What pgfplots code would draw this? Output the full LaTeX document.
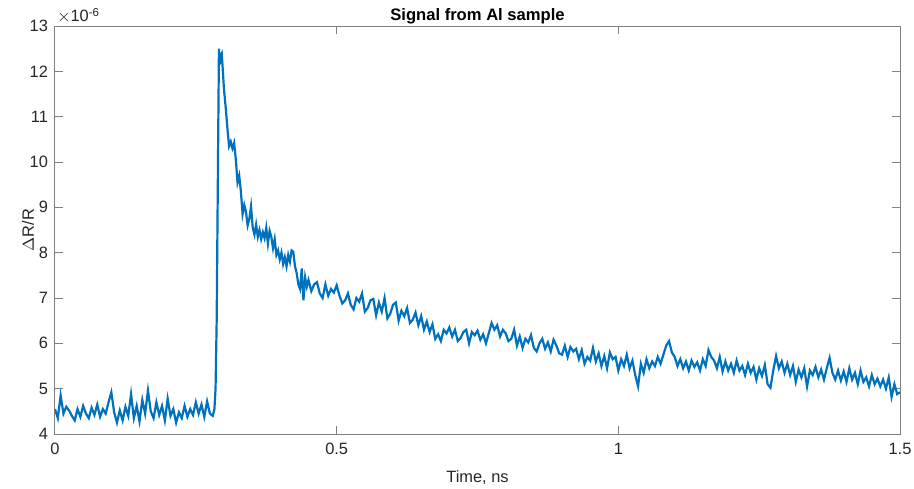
\documentclass[border=0pt]{standalone}
\usepackage{pgfplots}
\pgfplotsset{compat=1.18}
\usepackage{fontspec}
\setmainfont{Liberation Sans}
\definecolor{mlblue}{RGB}{0,114,189}
\definecolor{axgray}{RGB}{128,128,128}
\definecolor{txtgray}{RGB}{38,38,38}
\begin{document}
\begin{tikzpicture}
\begin{axis}[name=ax, at={(0,0)}, anchor=south west,
  scale only axis, width=422.5pt, height=204pt,
  xmin=0, xmax=1.5, ymin=4, ymax=13,
  xtick={0,0.5,1,1.5}, xticklabels={0,0.5,1,1.5},
  ytick={4,5,6,7,8,9,10,11,12,13},
  tick align=inside, major tick length=4pt,
  axis line style={axgray, line width=0.5pt},
  every tick/.style={axgray, line width=0.5pt},
  tick label style={txtgray, font=\fontsize{8.2}{10}\selectfont},
  /pgf/number format/assume math mode=true,
  xticklabel style={yshift=-1pt},
  xlabel={Time, ns}, ylabel={$\Delta$R/R},
  label style={txtgray, font=\fontsize{8.2}{10}\selectfont},
  xlabel style={yshift=-1pt},
  ylabel style={yshift=-9pt},
  title={\bfseries Signal from Al sample},
  title style={black, font=\fontsize{8.3}{10}\selectfont, yshift=-8.5pt},
]
\addplot[mlblue, line width=1.1pt] coordinates {
(0.000,4.55)(0.005,4.35)(0.010,4.85)(0.015,4.45)(0.020,4.60)(0.025,4.52)(0.030,4.40)(0.035,4.30)(0.040,4.55)(0.045,4.38)
(0.050,4.62)(0.055,4.45)(0.060,4.35)(0.065,4.58)(0.070,4.42)(0.075,4.65)(0.080,4.38)(0.085,4.55)(0.090,4.45)(0.095,4.70)
(0.100,4.92)(0.105,4.48)(0.110,4.25)(0.115,4.52)(0.120,4.30)(0.125,4.60)(0.130,4.40)(0.135,4.88)(0.140,4.35)(0.145,4.62)
(0.150,4.28)(0.155,4.75)(0.160,4.45)(0.165,4.96)(0.170,4.50)(0.175,4.35)(0.180,4.70)(0.185,4.42)(0.190,4.62)(0.195,4.30)
(0.200,4.78)(0.205,4.40)(0.210,4.55)(0.215,4.25)(0.220,4.48)(0.225,4.35)(0.230,4.62)(0.235,4.38)(0.240,4.55)(0.245,4.42)
(0.250,4.70)(0.255,4.45)(0.260,4.65)(0.265,4.38)(0.270,4.72)(0.275,4.45)(0.280,4.40)(0.283,4.55)(0.285,5.0)(0.287,6.5)
(0.289,9.5)(0.291,12.5)(0.2925,12.15)(0.294,12.35)(0.296,12.4)(0.298,12.0)(0.300,11.6)(0.303,11.2)(0.306,10.75)(0.309,10.35)
(0.312,10.45)(0.315,10.30)(0.318,10.42)(0.321,10.05)(0.324,9.55)(0.327,9.70)(0.330,9.35)(0.333,8.85)(0.336,9.05)(0.339,8.90)
(0.342,8.60)(0.345,8.75)(0.348,9.02)(0.351,8.55)(0.354,8.40)(0.357,8.62)(0.360,8.35)(0.363,8.50)(0.366,8.30)(0.369,8.45)
(0.372,8.32)(0.375,8.55)(0.378,8.20)(0.381,8.48)(0.384,8.35)(0.387,8.10)(0.390,8.30)(0.393,7.95)(0.396,8.05)(0.399,7.85)
(0.402,8.00)(0.405,7.75)(0.408,7.90)(0.411,7.70)(0.414,7.95)(0.417,7.80)(0.420,8.05)(0.423,8.02)(0.426,7.70)(0.429,7.55)
(0.432,7.30)(0.435,7.20)(0.438,7.65)(0.441,6.95)(0.444,7.45)(0.447,7.25)(0.450,7.40)(0.455,7.15)(0.460,7.30)(0.465,7.35)
(0.470,7.10)(0.475,7.00)(0.480,7.30)(0.485,7.05)(0.490,7.20)(0.495,7.12)(0.500,7.28)(0.505,7.05)(0.510,6.88)(0.515,6.95)
(0.520,7.10)(0.525,6.85)(0.530,6.75)(0.535,7.00)(0.540,6.92)(0.545,7.10)(0.550,6.70)(0.555,6.78)(0.560,6.95)(0.565,6.98)
(0.570,6.62)(0.575,6.90)(0.580,6.70)(0.585,7.00)(0.590,6.55)(0.595,6.65)(0.600,6.85)(0.605,6.90)(0.610,6.50)(0.615,6.72)
(0.620,6.60)(0.625,6.78)(0.630,6.45)(0.635,6.52)(0.640,6.68)(0.645,6.40)(0.650,6.60)(0.655,6.30)(0.660,6.48)(0.665,6.25)
(0.670,6.42)(0.675,6.10)(0.680,6.20)(0.685,6.05)(0.690,6.30)(0.695,6.22)(0.700,6.35)(0.705,6.15)(0.710,6.30)(0.715,6.05)
(0.720,6.12)(0.725,6.25)(0.730,6.30)(0.735,6.00)(0.740,6.25)(0.745,6.18)(0.750,6.28)(0.755,6.08)(0.760,6.20)(0.765,6.00)
(0.770,6.22)(0.775,6.45)(0.780,6.30)(0.785,6.40)(0.790,6.15)(0.795,6.30)(0.800,6.22)(0.805,6.05)(0.810,6.10)(0.815,6.30)
(0.820,5.95)(0.825,6.15)(0.830,5.90)(0.835,6.10)(0.840,6.02)(0.845,6.18)(0.850,5.90)(0.855,5.82)(0.860,6.00)(0.865,6.10)
(0.870,5.88)(0.875,6.02)(0.880,5.82)(0.885,6.08)(0.890,5.95)(0.895,5.78)(0.900,5.75)(0.905,5.95)(0.910,5.70)(0.915,5.92)
(0.920,5.82)(0.925,5.88)(0.930,5.65)(0.935,5.85)(0.940,5.55)(0.945,5.70)(0.950,5.62)(0.955,5.90)(0.960,5.60)(0.965,5.78)
(0.970,5.50)(0.975,5.72)(0.980,5.45)(0.985,5.80)(0.990,5.65)(0.995,5.70)(1.000,5.40)(1.005,5.65)(1.010,5.50)(1.015,5.75)
(1.020,5.45)(1.025,5.62)(1.030,5.30)(1.035,5.05)(1.040,5.55)(1.045,5.35)(1.050,5.65)(1.055,5.45)(1.060,5.60)(1.065,5.50)
(1.070,5.70)(1.075,5.55)(1.080,5.75)(1.085,5.95)(1.090,6.05)(1.095,5.80)(1.100,5.70)(1.105,5.50)(1.110,5.65)(1.115,5.45)
(1.120,5.60)(1.125,5.40)(1.130,5.62)(1.135,5.48)(1.140,5.58)(1.145,5.40)(1.150,5.65)(1.155,5.50)(1.160,5.85)(1.165,5.70)
(1.170,5.62)(1.175,5.45)(1.180,5.70)(1.185,5.38)(1.190,5.60)(1.195,5.40)(1.200,5.55)(1.205,5.35)(1.210,5.62)(1.215,5.40)
(1.220,5.50)(1.225,5.30)(1.230,5.55)(1.235,5.35)(1.240,5.48)(1.245,5.20)(1.250,5.45)(1.255,5.28)(1.260,5.52)(1.265,5.10)
(1.270,5.02)(1.275,5.40)(1.280,5.72)(1.285,5.45)(1.290,5.60)(1.295,5.35)(1.300,5.55)(1.305,5.30)(1.310,5.50)(1.315,5.15)
(1.320,5.42)(1.325,5.25)(1.330,5.45)(1.335,5.05)(1.340,5.40)(1.345,5.30)(1.350,5.48)(1.355,5.25)(1.360,5.42)(1.365,5.20)
(1.370,5.45)(1.375,5.68)(1.380,5.35)(1.385,5.20)(1.390,5.40)(1.395,5.18)(1.400,5.38)(1.405,5.15)(1.410,5.45)(1.415,5.20)
(1.420,5.35)(1.425,5.10)(1.430,5.40)(1.435,5.15)(1.440,5.25)(1.445,5.05)(1.450,5.30)(1.455,5.10)(1.460,5.22)(1.465,5.05)
(1.470,5.20)(1.475,5.00)(1.480,5.25)(1.485,4.82)(1.490,5.10)(1.495,4.88)(1.500,4.92)
};
\end{axis}
\node[anchor=south west, inner sep=0pt, txtgray, font=\fontsize{8.2}{10}\selectfont] at ([xshift=1pt,yshift=1pt]ax.north west) {$\times$10\textsuperscript{-6}};
\pgfresetboundingbox
\path (-27.5pt,-27pt) rectangle (429.5pt,217pt);
\end{tikzpicture}
\end{document}
